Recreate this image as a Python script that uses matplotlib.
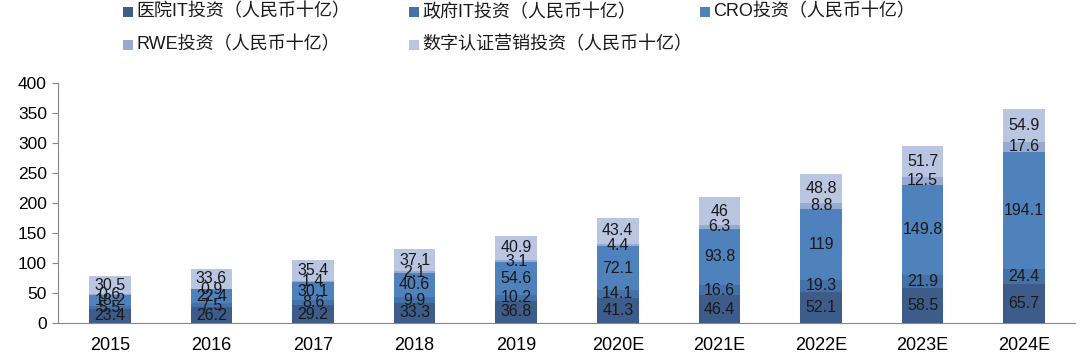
import matplotlib.pyplot as plt
import numpy as np
from matplotlib.patches import Rectangle

years = ["2015", "2016", "2017", "2018", "2019", "2020E", "2021E", "2022E", "2023E", "2024E"]
hospital_it = [23.4, 26.2, 29.2, 33.3, 36.8, 41.3, 46.4, 52.1, 58.5, 65.7]
gov_it = [5.5, 7.5, 8.6, 9.9, 10.2, 14.1, 16.6, 19.3, 21.9, 24.4]
cro = [18.2, 22.4, 30.1, 40.6, 54.6, 72.1, 93.8, 119, 149.8, 194.1]
rwe = [0.6, 0.9, 1.4, 2.1, 3.1, 4.4, 6.3, 8.8, 12.5, 17.6]
digital = [30.5, 33.6, 35.4, 37.1, 40.9, 43.4, 46, 48.8, 51.7, 54.9]

series = [
    ("医院IT投资（人民币十亿）", hospital_it, "#3D5C8A"),
    ("政府IT投资（人民币十亿）", gov_it, "#4571A9"),
    ("CRO投资（人民币十亿）", cro, "#4F81BD"),
    ("RWE投资（人民币十亿）", rwe, "#97AAD2"),
    ("数字认证营销投资（人民币十亿）", digital, "#BAC5E1"),
]

FONT = ["Liberation Sans", "Noto Sans CJK SC", "DejaVu Sans"]
plt.rcParams["font.family"] = FONT

W, H = 1080, 359
fig = plt.figure(figsize=(W / 100, H / 100), dpi=100)
ax = fig.add_axes([58 / W, 0.1003, 1017 / W, 0.6693])

x = np.arange(len(years))
bottom = np.zeros(len(years))
for name, vals, color in series:
    vals = np.array(vals, float)
    ax.bar(x, vals, 0.41, bottom=bottom, color=color, edgecolor="none")
    for xi, b, v in zip(x, bottom, vals):
        ax.text(xi, b + v / 2, f"{v:g}", ha="center", va="center", fontsize=11.5, color="#1a1a1a")
    bottom += vals

ax.set_xlim(-0.51, 9.5)
ax.set_ylim(0, 400)
ax.set_yticks(range(0, 401, 50))
ax.set_xticks(x)
ax.set_xticklabels(years)
ax.tick_params(axis="x", length=0, labelsize=13, pad=10)
ax.tick_params(axis="y", length=4, color="#888888", labelsize=12.5, pad=4)
for s in ["top", "right"]:
    ax.spines[s].set_visible(False)
for s in ["left", "bottom"]:
    ax.spines[s].set_color("#888888")

# legend laid out like the source: fixed columns, two rows
cols_px = [123, 409, 700]
rows_px = [12, 45]
slots = [(0, 0), (0, 1), (0, 2), (1, 0), (1, 1)]
for (r, c), (name, _, color) in zip(slots, series):
    x0, yc = cols_px[c], rows_px[r]
    fig.add_artist(Rectangle((x0 / W, 1 - (yc + 5) / H), 10 / W, 10 / H,
                             transform=fig.transFigure, color=color, lw=0))
    fig.text((x0 + 13) / W, 1 - yc / H, name, fontsize=13, va="center", ha="left",
             color="#1a1a1a")

fig.savefig("out.png", dpi=100)
